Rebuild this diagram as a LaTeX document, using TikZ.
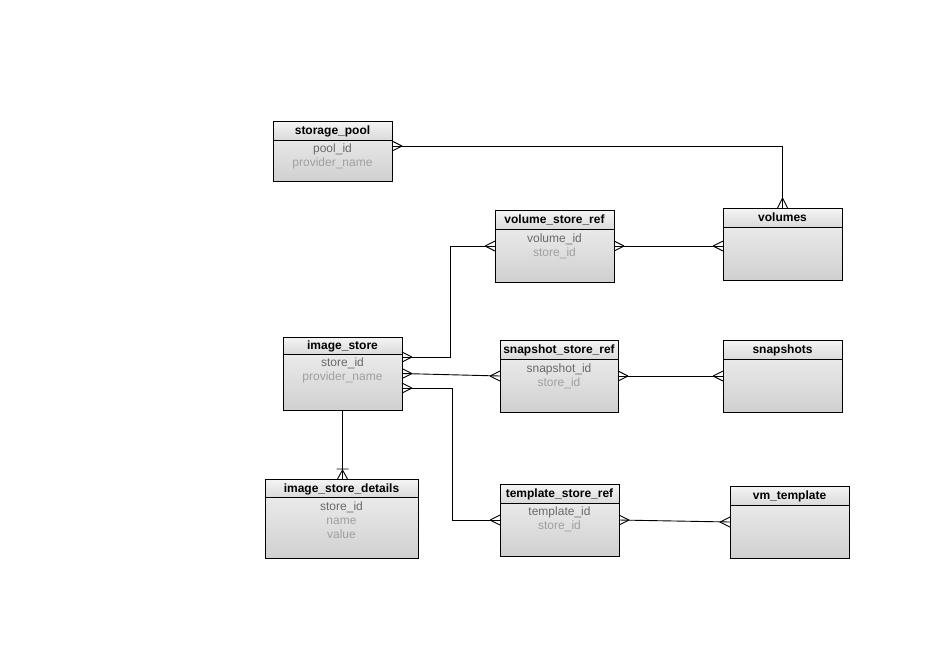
\documentclass[tikz,border=0pt]{standalone}
\usepackage{fontspec}
\setmainfont{Liberation Sans}
\usetikzlibrary{calc}
\definecolor{bodytop}{RGB}{242,242,242}
\definecolor{bodybot}{RGB}{208,208,208}
\definecolor{hdrtop}{RGB}{245,245,245}
\definecolor{hdrbot}{RGB}{218,218,218}
\definecolor{attrdark}{RGB}{105,105,105}
\definecolor{attrlight}{RGB}{160,160,160}
\tikzset{
  tblbox/.style={draw=none, inner sep=0pt, outer sep=0pt, anchor=north west,
    top color=bodytop, bottom color=bodybot},
  hdrtext/.style={font=\fontsize{12}{14}\selectfont\bfseries, inner sep=0pt, anchor=base},
  attrtext/.style={font=\fontsize{12}{14}\selectfont, inner sep=0pt, anchor=base},
  keyattr/.style={attrtext, text=attrdark},
  subattr/.style={attrtext, text=attrlight},
  conn/.style={draw=black, line width=0.9pt},
  crow/.pic={\draw[conn] (0,5) -- (10,0) (0,-5) -- (10,0);},
  crowbar/.pic={\draw[conn] (0,5) -- (9,0) (0,-5) -- (9,0) (10,6) -- (10,-6);}
}
% #1 name, #2 x, #3 y, #4 w, #5 h, #6 header height, #7 title
\newcommand{\ertable}[7]{%
  \node[tblbox, minimum width=#4pt, minimum height=#5pt] (#1) at (#2,#3) {};
  \shade[top color=hdrtop, bottom color=hdrbot] (#1.north west) rectangle ([yshift=-#6pt]#1.north east);
  \draw[line width=0.9pt] (#1.north west) rectangle (#1.south east);
  \draw[line width=0.9pt] ([yshift=-#6pt]#1.north west) -- ([yshift=-#6pt]#1.north east);
  \node[hdrtext] (#1-t) at ([yshift=-#6pt/2-4pt]#1.north) {#7};
}
\begin{document}
\begin{tikzpicture}[x=1pt,y=-1pt]
\useasboundingbox[fill=white] (0,0) rectangle (950,659);

\ertable{sp}{273}{121}{119}{60}{19}{storage\_pool}
\node[keyattr] (sp-a1) at ([yshift=-31pt]sp.north) {pool\_id};
\node[subattr] (sp-a2) at ([yshift=-45pt]sp.north) {provider\_name};

\ertable{vsr}{495}{210}{119}{72}{19}{volume\_store\_ref}
\node[keyattr] (vsr-a1) at ([yshift=-32pt]vsr.north) {volume\_id};
\node[subattr] (vsr-a2) at ([yshift=-46pt]vsr.north) {store\_id};

\ertable{vol}{723}{208}{119}{72}{19}{volumes}

\ertable{is}{283}{337}{119}{73}{17}{image\_store}
\node[keyattr] (is-a1) at ([yshift=-29pt]is.north) {store\_id};
\node[subattr] (is-a2) at ([yshift=-43pt]is.north) {provider\_name};

\ertable{ssr}{500}{340}{118}{72}{19}{snapshot\_store\_ref}
\node[keyattr] (ssr-a1) at ([yshift=-32pt]ssr.north) {snapshot\_id};
\node[subattr] (ssr-a2) at ([yshift=-46pt]ssr.north) {store\_id};

\ertable{snp}{723}{340}{119}{72}{19}{snapshots}

\ertable{isd}{265}{479}{153}{79}{18}{image\_store\_details}
\node[keyattr] (isd-a1) at ([yshift=-31pt]isd.north) {store\_id};
\node[subattr] (isd-a2) at ([yshift=-45pt]isd.north) {name};
\node[subattr] (isd-a3) at ([yshift=-59pt]isd.north) {value};

\ertable{tsr}{500}{484}{119}{72}{19}{template\_store\_ref}
\node[keyattr] (tsr-a1) at ([yshift=-31pt]tsr.north) {template\_id};
\node[subattr] (tsr-a2) at ([yshift=-45pt]tsr.north) {store\_id};

\ertable{vmt}{730}{486}{119}{72}{19}{vm\_template}

% connection points
\coordinate (sp-r) at ([yshift=-25pt]sp.north east);
\coordinate (is-r1) at ([yshift=-20pt]is.north east);
\coordinate (is-r3) at ([yshift=-51pt]is.north east);
\coordinate (vol-l) at (vsr.east -| vol.west);
\coordinate (isd-t) at (is.south |- isd.north);

% connectors
\draw[conn] (sp-r) -| (vol.north);
\draw[conn] (vsr.west) -- ++(-45,0) |- (is-r1);
\draw[conn] (vsr.east) -- (vol-l);
\draw[conn] (is.east) -- (ssr.west);
\draw[conn] (ssr.east) -- (snp.west);
\draw[conn] (is-r3) -- ++(50,0) |- (tsr.west);
\draw[conn] (tsr.east) -- (vmt.west);
\draw[conn] (is.south) -- (isd-t);

% crow's feet
\pic at (sp-r) {crow};
\pic[rotate=90] at (vol.north) {crow};
\pic[rotate=180] at (vsr.west) {crow};
\pic at (is-r1) {crow};
\pic at (vsr.east) {crow};
\pic[rotate=180] at (vol-l) {crow};
\pic at (is.east) {crow};
\pic[rotate=180] at (ssr.west) {crow};
\pic at (ssr.east) {crow};
\pic[rotate=180] at (snp.west) {crow};
\pic at (is-r3) {crow};
\pic[rotate=180] at (tsr.west) {crow};
\pic at (tsr.east) {crow};
\pic[rotate=180] at (vmt.west) {crow};
\pic[rotate=90] at (isd-t) {crowbar};
\end{tikzpicture}
\end{document}
